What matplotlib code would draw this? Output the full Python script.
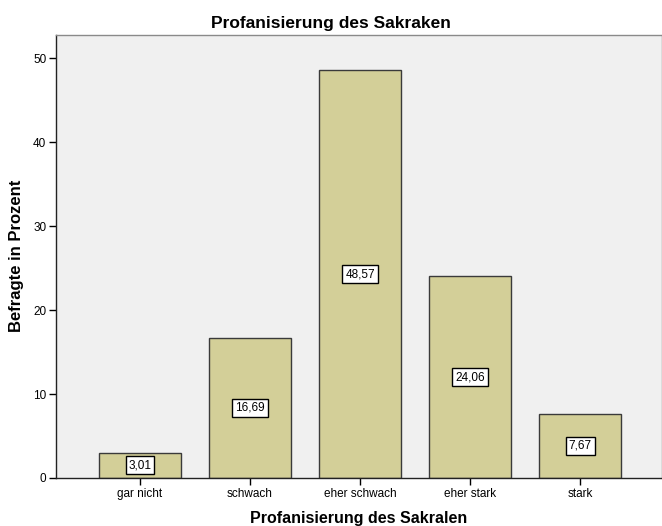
import matplotlib
matplotlib.use("Agg")
import matplotlib.pyplot as plt

categories = ["gar nicht", "schwach", "eher schwach", "eher stark", "stark"]
percent = [3.01, 16.69, 48.57, 24.06, 7.67]
value_labels = ["3,01", "16,69", "48,57", "24,06", "7,67"]

plt.rcParams["font.family"] = ["Liberation Sans", "DejaVu Sans"]

fig = plt.figure(figsize=(6.62, 5.26), dpi=100)
# axes box in figure pixels: left 56, right 662, top 35, bottom 478
ax = fig.add_axes((56 / 662, 48 / 526, 606 / 662, 443 / 526))
ax.set_facecolor("#f0f0f0")

x = range(len(categories))
ax.bar(x, percent, width=0.745, color="#d3cf98", edgecolor="#3a3a3a", linewidth=1.0, zorder=2)

for xi, val, lab in zip(x, percent, value_labels):
    ax.text(xi, val / 2, lab, ha="center", va="center", fontsize=8.5, zorder=3,
            bbox=dict(boxstyle="square,pad=0.25", facecolor="white", edgecolor="black", linewidth=1.0))

ax.set_xlim(-0.764, 4.745)
ax.set_ylim(0, 52.8)
ax.set_xticks(list(x))
ax.set_xticklabels(categories)
ax.set_yticks([0, 10, 20, 30, 40, 50])
ax.tick_params(axis="both", labelsize=8.5, length=5, width=1, direction="out", color="black", pad=2)

for side in ("left", "bottom"):
    ax.spines[side].set_color("#222222")
    ax.spines[side].set_linewidth(1)
for side in ("top", "right"):
    ax.spines[side].set_color("#8a8a8a")
    ax.spines[side].set_linewidth(1)

# title is centred on the whole figure, not on the axes
ax.set_title("Profanisierung des Sakraken", fontsize=12.5, fontweight="bold", pad=5,
             x=(331 - 56) / 606)
ax.set_xlabel("Profanisierung des Sakralen", fontsize=11.5, fontweight="bold")
ax.set_ylabel("Befragte in Prozent", fontsize=12, fontweight="bold")
ax.xaxis.set_label_coords(0.5, (478 - 518) / 443)
ax.yaxis.set_label_coords((16 - 56) / 606, (478 - 256) / 443)
ax.xaxis.label.set_va("center")
ax.yaxis.label.set_va("center")

fig.savefig("out.png", dpi=100)
